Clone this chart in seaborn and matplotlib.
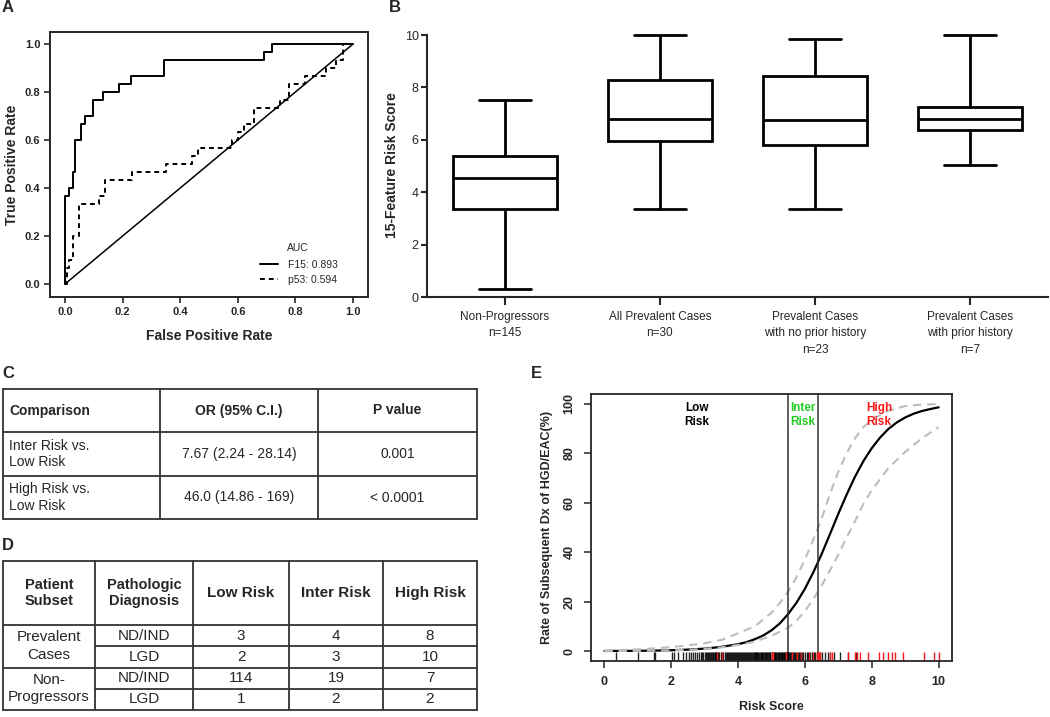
import matplotlib
matplotlib.use("Agg")
import matplotlib.pyplot as plt
import numpy as np
import pandas as pd
import seaborn as sns

# === A: ROC curves (corner points after each rise) ===
f15_fpr = [0.0, 0.0, 0.014, 0.028, 0.034, 0.055, 0.069, 0.097, 0.131, 0.186, 0.228, 0.345, 0.690, 0.717, 1.0]
f15_tpr = [0.0, 0.367, 0.400, 0.467, 0.600, 0.667, 0.700, 0.767, 0.800, 0.833, 0.867, 0.933, 0.967, 1.0, 1.0]
p53_fpr = [0.0, 0.007, 0.014, 0.028, 0.048, 0.117, 0.138, 0.234, 0.352, 0.441, 0.462, 0.579, 0.600,
           0.621, 0.655, 0.745, 0.776, 0.834, 0.905, 0.940, 0.965, 1.0]
p53_tpr = [0.0, 0.067, 0.100, 0.200, 0.333, 0.367, 0.433, 0.467, 0.500, 0.533, 0.567, 0.600, 0.633,
           0.667, 0.733, 0.767, 0.833, 0.867, 0.900, 0.933, 1.0, 1.0]
diag = [0.0, 1.0]
auc_labels = ["F15: 0.893", "p53: 0.594"]

# === B: 15-feature risk score, five-number summaries ===
box_groups = ["Non-Progressors\nn=145", "All Prevalent Cases\nn=30",
              "Prevalent Cases\nwith no prior history\nn=23", "Prevalent Cases\nwith prior history\nn=7"]
box_min = [0.32, 3.36, 3.36, 5.03]
box_q1 = [3.35, 5.94, 5.79, 6.36]
box_med = [4.54, 6.78, 6.76, 6.78]
box_q3 = [5.38, 8.30, 8.44, 7.24]
box_max = [7.53, 10.0, 9.83, 10.0]

# === C: odds ratios ===
c_header = ["Comparison", "OR (95% C.I.)", "P value"]
c_comparison = ["Inter Risk vs.\nLow Risk", "High Risk vs.\nLow Risk"]
c_or = ["7.67 (2.24 - 28.14)", "46.0 (14.86 - 169)"]
c_p = ["0.001", "< 0.0001"]

# === D: counts by risk class ===
d_header = ["Patient\nSubset", "Pathologic\nDiagnosis", "Low Risk", "Inter Risk", "High Risk"]
d_subset = ["Prevalent\nCases", "Non-\nProgressors"]
d_diagnosis = ["ND/IND", "LGD", "ND/IND", "LGD"]
d_low = [3, 2, 114, 1]
d_inter = [4, 3, 19, 2]
d_high = [8, 10, 7, 2]

# === E: risk curve with confidence band ===
curve_x = [0, 0.5, 1, 1.5, 2, 2.5, 3, 3.5, 4, 4.25, 4.5, 4.75, 5, 5.25, 5.5, 5.75, 6, 6.25, 6.5,
           6.75, 7, 7.25, 7.5, 7.75, 8, 8.25, 8.5, 8.75, 9, 9.25, 9.5, 9.75, 10]
curve_fit = [0.05, 0.08, 0.12, 0.2, 0.35, 0.6, 1.0, 1.7, 2.8, 3.6, 4.8, 6.3, 8.4, 11.2, 15.0, 19.6,
             25.2, 31.8, 39.2, 47.3, 55.5, 63.3, 70.5, 76.8, 82.0, 86.3, 89.8, 92.4, 94.4, 95.9,
             97.0, 97.8, 98.5]
band_x = [0, 0.5, 1, 1.5, 2, 2.5, 3, 3.5, 4, 4.5, 5, 5.25, 5.5, 5.75, 6, 6.25, 6.5, 6.75, 7,
          7.25, 7.5, 7.75, 8, 8.5, 9, 9.5, 10]
band_upper = [0.2, 0.4, 0.7, 1.1, 1.6, 2.3, 3.2, 4.5, 7.2, 10.0, 15.5, 19.5, 24.0, 30.0, 37.0,
              45.0, 53.5, 63.5, 72.5, 80.0, 86.0, 90.5, 93.5, 97.2, 99.0, 99.6, 99.8]
band_lower = [0.0, 0.05, 0.1, 0.2, 0.3, 0.5, 0.9, 1.5, 2.5, 3.8, 6.2, 7.8, 9.5, 12.3, 16.2, 21.0,
              26.5, 32.7, 39.0, 46.0, 52.5, 59.5, 65.0, 74.0, 80.5, 86.0, 90.5]
cutoffs = [5.5, 6.4]
rug_nonprog = [0.36, 1.00, 1.48, 1.52, 2.02, 2.08, 2.20, 2.35, 2.45, 2.52,
               2.60, 2.66, 2.72, 2.78, 2.83, 2.88, 2.92, 2.96, 3.00, 3.04, 3.08, 3.11, 3.14,
               3.17, 3.20, 3.23, 3.26, 3.29, 3.31, 3.33, 3.34, 3.35, 3.37, 3.40, 3.44, 3.48,
               3.52, 3.56, 3.60, 3.63, 3.66, 3.70, 3.73, 3.76, 3.79, 3.82, 3.85, 3.88, 3.91,
               3.94, 3.97, 4.00, 4.03, 4.06, 4.09, 4.12, 4.15, 4.18, 4.21, 4.24, 4.27, 4.30,
               4.33, 4.36, 4.39, 4.42, 4.45, 4.48, 4.50, 4.52, 4.54, 4.56,
               4.58, 4.61, 4.63, 4.66, 4.68, 4.71, 4.73, 4.76, 4.78, 4.80, 4.83, 4.85, 4.88,
               4.90, 4.93, 4.95, 4.97, 5.00, 5.02, 5.04, 5.07, 5.09, 5.11, 5.14, 5.16, 5.18,
               5.21, 5.23, 5.25, 5.28, 5.30, 5.32, 5.34, 5.36, 5.38, 5.40,
               5.42, 5.44, 5.45, 5.47, 5.48, 5.49, 5.495,
               5.53, 5.56, 5.59, 5.62, 5.65, 5.68, 5.71, 5.74, 5.78, 5.82, 5.86, 5.90, 5.95,
               6.00, 6.05, 6.10, 6.15, 6.20, 6.26, 6.31, 6.37,
               6.46, 6.52, 6.60, 6.68, 6.75, 6.88, 7.05, 7.30, 7.53]
rug_prevalent = [3.36, 3.53, 5.00, 5.05, 5.42, 5.60, 5.76, 5.88, 6.12, 6.25, 6.35, 6.38, 6.42,
                 6.45, 6.74, 6.82, 7.28, 7.50, 7.57, 7.65, 7.88, 8.22, 8.33, 8.48, 8.60, 8.70,
                 8.92, 9.57, 9.87, 10.0]
zone_labels = ["Low\nRisk", "Inter\nRisk", "High\nRisk"]
zone_x = [2.76, 5.94, 8.22]
zone_colors = ["black", "#22cc22", "#ff1a1a"]

sns.set_theme(style="ticks")
plt.rcParams["font.family"] = ["Liberation Sans", "DejaVu Sans"]

W, H = 1050, 717
fig = plt.figure(figsize=(W / 100, H / 100), dpi=100)


def px_axes(x0, y0, x1, y1):
    return fig.add_axes([x0 / W, 1 - y1 / H, (x1 - x0) / W, (y1 - y0) / H])


# overlay for tables and panel letters, in pixel coordinates
ov = fig.add_axes([0, 0, 1, 1])
ov.set_xlim(0, W)
ov.set_ylim(H, 0)
ov.axis("off")
for letter, (lx, ly) in zip("ABCDE", [(2, 8), (389, 8), (2, 374), (2, 546), (531, 374)]):
    ov.text(lx, ly, letter, fontsize=12, fontweight="bold", va="center", ha="left")

# === A ===
axA = px_axes(50, 32, 368, 297)
sns.lineplot(x=diag, y=diag, ax=axA, color="black", lw=1.1, estimator=None, sort=False)
sns.lineplot(x=f15_fpr, y=f15_tpr, ax=axA, color="black", lw=1.4, estimator=None, sort=False,
             drawstyle="steps-post")
sns.lineplot(x=p53_fpr, y=p53_tpr, ax=axA, color="black", lw=1.4, estimator=None, sort=False,
             drawstyle="steps-post")
l_f15, l_p53 = axA.lines[1], axA.lines[2]
l_p53.set_dashes((2.5, 2))
axA.set_xlim(-0.052, 1.052)
axA.set_ylim(-0.054, 1.05)
axA.set_xticks(np.arange(0, 1.01, 0.2))
axA.set_yticks(np.arange(0, 1.01, 0.2))
axA.set_xticklabels([f"{v:.1f}" for v in np.arange(0, 1.01, 0.2)])
axA.set_yticklabels([f"{v:.1f}" for v in np.arange(0, 1.01, 0.2)])
axA.tick_params(length=4, width=1.2, labelsize=8, pad=3)
for t in axA.get_xticklabels() + axA.get_yticklabels():
    t.set_fontweight("bold")
for s in axA.spines.values():
    s.set_linewidth(1.4)
axA.set_xlabel("False Positive Rate", fontsize=10, fontweight="bold", labelpad=9)
axA.set_ylabel("True Positive Rate", fontsize=10, fontweight="bold", labelpad=4)
axA.text(0.745, 0.185, "AUC", transform=axA.transAxes, fontsize=7.5, va="center", ha="left")
axA.legend([l_f15, l_p53], auc_labels, loc="lower left", bbox_to_anchor=(0.63, 0.01),
           frameon=False, fontsize=7.5, handlelength=1.8, handletextpad=0.9, labelspacing=0.5)

# === B ===
axB = px_axes(427, 32.4, 1048, 297)
box_df = pd.DataFrame({
    "group": np.repeat(box_groups, 5),
    "score": np.column_stack([box_min, box_q1, box_med, box_q3, box_max]).ravel(),
})
sns.boxplot(data=box_df, x="group", y="score", ax=axB, whis=(0, 100), width=0.67,
            color="white", linecolor="black", linewidth=2.0, fliersize=0)
axB.set_ylim(0, 10.1)
axB.set_xlim(-0.5, 3.5)
axB.set_yticks([0, 2, 4, 6, 8, 10])
sns.despine(ax=axB)
axB.spines["left"].set_bounds(0, 10)
for s in axB.spines.values():
    s.set_linewidth(1.5)
axB.tick_params(axis="x", length=6, width=1.5, labelsize=8.5, pad=4)
axB.tick_params(axis="y", length=4, width=1.5, labelsize=9, pad=2)
for t in axB.get_xticklabels():
    t.set_linespacing(1.5)
axB.set_xlabel("")
axB.set_ylabel("15-Feature Risk Score", fontsize=10, fontweight="bold", labelpad=4)

# === C: table ===
c_xs = [3, 160, 318, 477]
c_ys = [389, 432, 476, 519]
tbl_lw = 1.3
tbl_col = "#333333"
for y in c_ys:
    ov.plot([c_xs[0], c_xs[-1]], [y, y], color=tbl_col, lw=tbl_lw)
for x in c_xs:
    ov.plot([x, x], [c_ys[0], c_ys[-1]], color=tbl_col, lw=tbl_lw)
for j, h in enumerate(c_header):
    cx = c_xs[0] + 6 if j == 0 else (c_xs[j] + c_xs[j + 1]) / 2
    ov.text(cx, (c_ys[0] + c_ys[1]) / 2, h, fontsize=10, fontweight="bold",
            ha="left" if j == 0 else "center", va="center")
for i in range(len(c_comparison)):
    cy = (c_ys[i + 1] + c_ys[i + 2]) / 2
    ov.text(c_xs[0] + 6, cy, c_comparison[i], fontsize=10, ha="left", va="center", linespacing=1.25)
    ov.text((c_xs[1] + c_xs[2]) / 2, cy, c_or[i], fontsize=10, ha="center", va="center")
    ov.text((c_xs[2] + c_xs[3]) / 2, cy, c_p[i], fontsize=10, ha="center", va="center")

# === D: table ===
d_xs = [3, 95, 193, 289, 383, 477]
d_ys = [561, 625, 646, 667.5, 688.5, 709.5]
for k, y in enumerate(d_ys):
    start = d_xs[1] if k in (2, 4) else d_xs[0]
    ov.plot([start, d_xs[-1]], [y, y], color=tbl_col, lw=tbl_lw)
for x in d_xs:
    ov.plot([x, x], [d_ys[0], d_ys[-1]], color=tbl_col, lw=tbl_lw)
for j, h in enumerate(d_header):
    ov.text((d_xs[j] + d_xs[j + 1]) / 2, (d_ys[0] + d_ys[1]) / 2, h,
            fontsize=10.5 if j < 2 else 11, fontweight="bold", ha="center", va="center",
            linespacing=1.25)
for g, sub in enumerate(d_subset):
    ov.text((d_xs[0] + d_xs[1]) / 2, d_ys[2 * g + 2], sub, fontsize=11, ha="center",
            va="center", linespacing=1.3)
d_cells = [d_diagnosis, d_low, d_inter, d_high]
for i in range(len(d_diagnosis)):
    cy = (d_ys[i + 1] + d_ys[i + 2]) / 2
    for j, col in enumerate(d_cells):
        ov.text((d_xs[j + 1] + d_xs[j + 2]) / 2, cy, str(col[i]), fontsize=11,
                ha="center", va="center")

# === E ===
axE = px_axes(591, 393.7, 952, 661)
sns.lineplot(x=curve_x, y=curve_fit, ax=axE, color="black", lw=1.6, estimator=None, sort=False)
for band in (band_upper, band_lower):
    sns.lineplot(x=band_x, y=band, ax=axE, color="#bdbdbd", lw=1.5, estimator=None, sort=False)
    axE.lines[-1].set_dashes((4, 2.8))
for c in cutoffs:
    axE.axvline(c, color="#333333", lw=1.1)
sns.rugplot(x=rug_nonprog, ax=axE, height=0.035, color="black", lw=0.7, alpha=0.85,
            expand_margins=False)
sns.rugplot(x=rug_prevalent, ax=axE, height=0.035, color="#ff1a1a", lw=0.9, expand_margins=False)
for lab, zx, zc in zip(zone_labels, zone_x, zone_colors):
    axE.text(zx, 95.5, lab, color=zc, fontsize=8.5, fontweight="bold", ha="center", va="center",
             linespacing=1.25)
axE.set_xlim(-0.4, 10.4)
axE.set_ylim(-4, 104)
axE.set_xticks([0, 2, 4, 6, 8, 10])
axE.set_yticks([0, 20, 40, 60, 80, 100])
axE.tick_params(length=5, width=1.1, labelsize=9, pad=6)
for t in axE.get_xticklabels() + axE.get_yticklabels():
    t.set_fontweight("bold")
for t in axE.get_yticklabels():
    t.set_rotation(90)
    t.set_va("center")
for s in axE.spines.values():
    s.set_linewidth(1.3)
axE.set_xlabel("Risk Score", fontsize=9, fontweight="bold", labelpad=9)
axE.set_ylabel("Rate of Subsequent Dx of HGD/EAC(%)", fontsize=9, fontweight="bold", labelpad=8)

fig.savefig("out.png", dpi=100)
